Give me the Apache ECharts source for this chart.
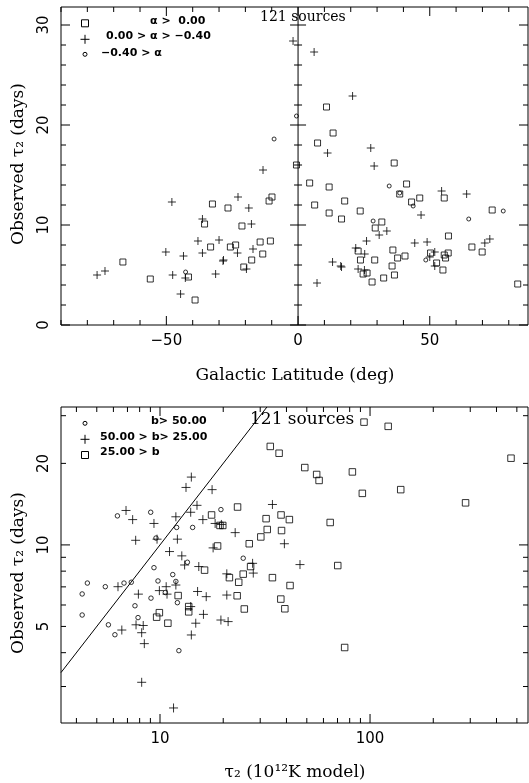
<!DOCTYPE html>
<html>
<head>
<meta charset="utf-8">
<title>tau2</title>
<script src="https://cdn.jsdelivr.net/npm/echarts@6/dist/echarts.min.js"></script>
<style>
html,body{margin:0;padding:0;background:#fff;}
#chart{width:529px;height:783px;}
</style>
</head>
<body>
<div id="chart"></div>
<script>
//上图: 银纬 vs tau2
var topSquare=[[10.8,21.8],[13.3,19.2],[7.4,18.2],[36.5,16.2],[-0.6,16.0],[4.4,14.2],[11.8,13.8],[-9.9,12.8],[-11.0,12.4],[6.3,12.0],
	[17.7,12.4],[11.8,11.2],[16.5,10.6],[23.6,11.4],[41.2,14.1],[38.6,13.1],[43.1,12.3],[46.2,12.7],[55.5,12.7],[73.7,11.5],
	[31.8,10.3],[29.3,9.7],[57.1,8.9],[66.0,7.8],[69.9,7.3],[22.8,7.4],[36.0,7.5],[37.8,6.7],[40.6,6.9],[23.7,6.5],
	[29.1,6.5],[35.7,5.9],[50.3,7.2],[55.5,7.0],[57.0,7.2],[56.0,6.7],[52.6,6.2],[55.0,5.5],[24.7,5.1],[26.2,5.2],
	[28.1,4.3],[32.5,4.7],[36.6,5.0],[83.4,4.1],[-66.5,6.3],[-56.1,4.6],[-41.6,4.8],[-39.1,2.5],[-32.5,12.1],[-26.6,11.7],
	[-35.5,10.1],[-21.3,9.9],[-33.2,7.8],[-25.7,7.8],[-23.7,8.0],[-14.4,8.3],[-10.5,8.4],[-13.4,7.1],[-17.6,6.5],[-20.6,5.8]];
var topPlus=[[-1.9,28.4],[6.1,27.3],[20.7,22.9],[11.2,17.2],[27.6,17.7],[28.9,15.9],[-13.3,15.5],[54.5,13.4],[64.0,13.1],[46.7,11.0],
	[33.7,9.4],[30.8,9.0],[26.0,8.4],[44.3,8.2],[49.0,8.3],[72.8,8.6],[70.9,8.2],[21.9,7.7],[25.3,7.1],[13.1,6.3],
	[16.5,5.8],[16.2,5.9],[51.9,7.3],[50.0,6.8],[51.9,5.9],[22.8,5.6],[25.2,5.5],[7.2,4.2],[-76.3,5.0],[-73.3,5.4],
	[-47.9,12.3],[-50.2,7.3],[-43.5,6.9],[-47.6,5.0],[-42.8,4.7],[-44.6,3.1],[-38.0,8.4],[-36.3,7.2],[-36.3,10.6],[-30.0,8.5],
	[-31.3,5.1],[-28.5,6.4],[-28.3,6.5],[-22.8,12.8],[-18.7,11.7],[-17.7,10.1],[-23.0,7.2],[-17.1,7.6],[-19.6,5.6]];
var topCircle=[[-0.6,20.9],[-9.1,18.6],[34.6,13.9],[38.6,13.2],[43.7,11.9],[77.9,11.4],[64.8,10.6],[28.5,10.4],[48.5,6.5],[-42.7,5.3]];
//下图: 模型tau2 vs 观测tau2
var botCircle=[[6.27,12.8],[9.03,13.2],[9.57,10.6],[9.36,8.24],[4.51,7.23],[5.49,7.01],[6.74,7.23],[7.30,7.28],[12.0,11.6],[14.3,11.6],
	[19.5,13.5],[13.5,8.63],[24.9,8.93],[12.1,6.12],[9.06,6.36],[10.6,6.67],[11.9,7.33],[11.5,7.77],[9.78,7.36],[7.60,5.96],
	[7.86,5.39],[4.26,6.59],[4.26,5.51],[5.68,5.07],[6.10,4.66],[12.3,4.07]];
var botPlus=[[6.89,13.4],[7.41,12.4],[7.66,10.4],[9.36,12.0],[9.68,10.5],[6.31,7.01],[13.3,16.3],[14.1,17.8],[17.7,16.0],[15.0,14.0],
	[11.9,12.7],[14.0,13.2],[12.1,10.5],[16.0,12.4],[18.3,12.0],[22.8,11.1],[11.1,9.45],[12.7,9.11],[13.1,8.43],[15.3,8.32],
	[17.9,9.75],[27.6,8.55],[27.8,7.87],[20.8,7.82],[34.3,14.1],[39.1,10.1],[46.4,8.46],[20.8,6.53],[19.5,5.28],[21.1,5.21],
	[16.1,5.54],[14.8,5.14],[14.1,4.65],[14.0,5.92],[15.1,6.73],[16.6,6.44],[10.8,6.58],[11.9,7.11],[9.93,6.78],[10.7,7.01],
	[7.89,6.58],[7.69,5.07],[8.32,5.04],[8.18,4.74],[6.58,4.85],[8.42,4.32],[8.18,3.11],[11.6,2.50],[19.6,11.9]];
var botSquare=[[17.6,12.9],[19.3,11.8],[19.9,11.8],[23.4,13.8],[32.0,12.5],[16.3,8.07],[18.8,9.91],[26.6,10.1],[30.2,10.7],[27.0,8.32],
	[24.9,7.80],[21.4,7.57],[23.7,7.28],[33.5,23.1],[36.9,21.8],[48.9,19.3],[55.7,18.2],[57.2,17.3],[64.6,12.1],[37.7,12.9],
	[41.3,12.4],[32.4,11.4],[37.9,11.3],[34.3,7.57],[41.6,7.08],[23.3,6.49],[37.6,6.31],[39.3,5.81],[25.2,5.80],[13.7,5.92],
	[13.7,5.66],[12.2,6.50],[10.9,5.14],[9.64,5.41],[9.93,5.62],[75.7,4.18],[93.6,28.4],[122,27.4],[82.4,18.6],[91.9,15.5],
	[140,16.0],[285,14.3],[469,20.9],[70.2,8.39]];
//刻度
var topXTicks=[-90,-80,-70,-60,-50,-40,-30,-20,-10,0,10,20,30,40,50,60,70,80];
var topXMajor=[-50,0,50];
var topXLabels=[-50,0,50];
var topYTicks=[0,2,4,6,8,10,12,14,16,18,20,22,24,26,28,30];
var topYMajor=[0,10,20,30];
var topYLabels=[0,10,20,30];
var botXTicks=[4,5,6,7,8,9,10,20,30,40,50,60,70,80,90,100,200,300,400,500];
var botXMajor=[10,100];
var botXLabels=[10,100];
var botYTicks=[3,4,5,6,7,8,9,10,20,30];
var botYMajor=[10];
var botYLabels=[5,10,20];

var topXMin=-90,topXMax=87.3,topYMin=0,topYMax=31.8;
var botXMin=3.378,botXMax=565,botYMin=2.2,botYMax=32.3;

var tickFont='15px "DejaVu Sans"';
var titleFont='17px "DejaVu Serif"';
var legFont='bold 11px "DejaVu Sans"';
var plusPath='path://M0,5L10,5M5,0L5,10';

function fmt(v){
	return String(v).replace('-','\u2212');
}
//四边刻度 + 刻度标签
function tickSeries(idx,dim,ticks,major,labels,other){
	return {
		type:'custom',xAxisIndex:idx,yAxisIndex:idx,silent:true,z:5,
		data:ticks.map(function(v){return dim===0?[v,other]:[other,v];}),
		renderItem:function(params,api){
			var cs=params.coordSys;
			var v=api.value(dim);
			var p=api.coord([api.value(0),api.value(1)]);
			var len=major.indexOf(v)>=0?9:5;
			var st={stroke:'#000',lineWidth:1};
			var kids=[];
			if(dim===0){
				var b=cs.y+cs.height,t=cs.y;
				kids.push({type:'line',shape:{x1:p[0],y1:b,x2:p[0],y2:b-len},style:st});
				kids.push({type:'line',shape:{x1:p[0],y1:t,x2:p[0],y2:t+len},style:st});
				if(labels.indexOf(v)>=0){
					kids.push({type:'text',x:p[0],y:b+16,style:{text:fmt(v),font:tickFont,fill:'#000',align:'center',verticalAlign:'middle'}});
				}
			}else{
				var l=cs.x,r=cs.x+cs.width;
				kids.push({type:'line',shape:{x1:l,y1:p[1],x2:l+len,y2:p[1]},style:st});
				kids.push({type:'line',shape:{x1:r,y1:p[1],x2:r-len,y2:p[1]},style:st});
				if(labels.indexOf(v)>=0){
					kids.push({type:'text',x:l-17,y:p[1],rotation:Math.PI/2,style:{text:fmt(v),font:tickFont,fill:'#000',align:'center',verticalAlign:'middle'}});
				}
			}
			return {type:'group',children:kids};
		}
	};
}
//上图 b=0 处的中轴刻度
function centerTicks(){
	return {
		type:'custom',xAxisIndex:0,yAxisIndex:0,silent:true,z:5,
		data:topYTicks.map(function(v){return [0,v];}),
		renderItem:function(params,api){
			var p=api.coord([api.value(0),api.value(1)]);
			var h=topYMajor.indexOf(api.value(1))>=0?8:4;
			return {type:'line',shape:{x1:p[0]-h,y1:p[1],x2:p[0]+h,y2:p[1]},style:{stroke:'#000',lineWidth:1}};
		}
	};
}
function scatter(idx,data,symbol,size){
	return {
		type:'scatter',xAxisIndex:idx,yAxisIndex:idx,data:data,symbol:symbol,symbolSize:size,silent:true,
		itemStyle:{color:'rgba(0,0,0,0)',borderColor:'#000',borderWidth:1},
		emphasis:{disabled:true}
	};
}
function txt(x,y,s,font,align,rot){
	return {type:'text',x:x,y:y,rotation:rot||0,style:{text:s,font:font,fill:'#000',align:align||'left',verticalAlign:'middle'}};
}
function legRect(x,y,s){
	return {type:'rect',shape:{x:x-s/2,y:y-s/2,width:s,height:s},style:{fill:'none',stroke:'#000',lineWidth:1}};
}
function legPlus(x,y,s){
	return {type:'group',children:[
		{type:'line',shape:{x1:x-s/2,y1:y,x2:x+s/2,y2:y},style:{stroke:'#000',lineWidth:1}},
		{type:'line',shape:{x1:x,y1:y-s/2,x2:x,y2:y+s/2},style:{stroke:'#000',lineWidth:1}}
	]};
}
function legCircle(x,y,r){
	return {type:'circle',shape:{cx:x,cy:y,r:r},style:{fill:'none',stroke:'#000',lineWidth:1}};
}

var chart=echarts.init(document.getElementById('chart'),null,{renderer:'canvas'});
chart.setOption({
	animation:false,
	backgroundColor:'#fff',
	grid:[
		{left:61,top:7,width:467,height:318,show:true,borderColor:'#000',borderWidth:1,backgroundColor:'transparent'},
		{left:61,top:407,width:467,height:316,show:true,borderColor:'#000',borderWidth:1,backgroundColor:'transparent'}
	],
	xAxis:[
		{gridIndex:0,type:'value',min:topXMin,max:topXMax,show:false},
		{gridIndex:1,type:'log',logBase:10,min:botXMin,max:botXMax,show:false}
	],
	yAxis:[
		{gridIndex:0,type:'value',min:topYMin,max:topYMax,show:false},
		{gridIndex:1,type:'log',logBase:10,min:botYMin,max:botYMax,show:false}
	],
	graphic:[
		txt(19,164,'Observed \u03c4\u2082 (days)',titleFont,'center',Math.PI/2),
		txt(295,376,'Galactic Latitude (deg)',titleFont,'center'),
		txt(260,17,'121 sources','14px "DejaVu Serif"','left'),
		legRect(85,23.3,7),legPlus(85,39.3,9),legCircle(85,54.3,2),
		txt(150,21,'\u03b1 >  0.00',legFont),
		txt(106,36,'0.00 > \u03b1 > \u22120.40',legFont),
		txt(101,53,'\u22120.40 > \u03b1',legFont),
		txt(19,573,'Observed \u03c4\u2082 (days)',titleFont,'center',Math.PI/2),
		txt(295,773,'\u03c4\u2082 (10\u00b9\u00b2K model)',titleFont,'center'),
		txt(250,420,'121 sources','17px "DejaVu Serif"','left'),
		legCircle(85,423.3,2),legPlus(85,439.3,9),legRect(85,455,7),
		txt(151,421,'b> 50.00',legFont),
		txt(100,437,'50.00 > b> 25.00',legFont),
		txt(100,452,'25.00 > b',legFont)
	],
	series:[
		{type:'line',xAxisIndex:0,yAxisIndex:0,data:[[0,topYMin],[0,topYMax]],symbol:'none',silent:true,lineStyle:{color:'#000',width:1}},
		centerTicks(),
		tickSeries(0,0,topXTicks,topXMajor,topXLabels,topYMin),
		tickSeries(0,1,topYTicks,topYMajor,topYLabels,0),
		scatter(0,topSquare,'rect',6),
		scatter(0,topPlus,plusPath,8),
		scatter(0,topCircle,'circle',4),
		{type:'line',xAxisIndex:1,yAxisIndex:1,data:[[botXMin,botXMin],[botYMax,botYMax]],symbol:'none',silent:true,lineStyle:{color:'#000',width:1}},
		tickSeries(1,0,botXTicks,botXMajor,botXLabels,botYMin),
		tickSeries(1,1,botYTicks,botYMajor,botYLabels,botXMin),
		scatter(1,botSquare,'rect',6.5),
		scatter(1,botPlus,plusPath,9),
		scatter(1,botCircle,'circle',4.5)
	]
});
</script>
</body>
</html>
